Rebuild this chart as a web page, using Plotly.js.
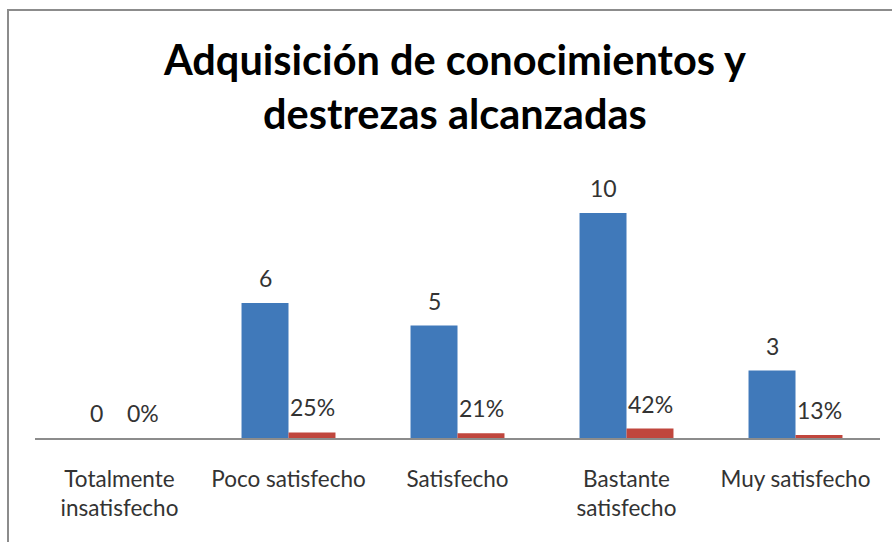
<!DOCTYPE html>
<html>
<head>
<meta charset="utf-8">
<script src="https://cdn.plot.ly/plotly-3.0.1.min.js"></script>
<style>
  html, body { margin: 0; padding: 0; background: #fff; overflow: hidden; }
  #chart { position: absolute; left: 0; top: 0; width: 892px; height: 542px; }
  #frame { position: absolute; left: 7px; top: 9px; width: 920px; height: 580px;
           border: 2px solid #8c8c8c; pointer-events: none; box-sizing: border-box; }
</style>
</head>
<body>
<div id="chart"></div>
<div id="frame"></div>
<script>
const categories = ["Totalmente<br>insatisfecho", "Poco satisfecho", "Satisfecho", "Bastante<br>satisfecho", "Muy satisfecho"];
const counts = [0, 6, 5, 10, 3];
const shares = [0, 0.25, 0.21, 0.42, 0.13];
const countLabels = ["0", "6", "5", "10", "3"];
const shareLabels = ["0%", "25%", "21%", "42%", "13%"];

const FONT = "Lato, 'Open Sans', sans-serif";
const TXT = "#333333";

const traces = [
  { type: "bar", x: categories, y: counts, name: "Frecuencia",
    marker: { color: "#4079BA" }, hoverinfo: "y" },
  { type: "bar", x: categories, y: shares, name: "Porcentaje",
    marker: { color: "#C0463D" }, hoverinfo: "y" }
];

const annotations = [];
categories.forEach((c, i) => {
  annotations.push({ x: c, y: counts[i], xref: "x", yref: "y", text: countLabels[i],
    showarrow: false, xshift: -23.5, yshift: 25, yanchor: "middle",
    font: { family: FONT, size: 23, color: TXT } });
  annotations.push({ x: c, y: shares[i], xref: "x", yref: "y", text: shareLabels[i],
    showarrow: false, xshift: 23.5, yshift: 25, yanchor: "middle",
    font: { family: FONT, size: 23, color: TXT } });
});

const layout = {
  width: 892, height: 542,
  paper_bgcolor: "#ffffff", plot_bgcolor: "#ffffff",
  margin: { l: 35, r: 12, t: 168, b: 104 },
  title: { text: "Adquisición de conocimientos y<br>destrezas alcanzadas",
    x: 0.51, xanchor: "center", y: 0.861, yref: "container", yanchor: "middle",
    font: { family: FONT, size: 41.5, color: "#000000", weight: "bold" } },
  showlegend: false,
  barmode: "group", bargap: 0.444, bargroupgap: 0,
  xaxis: { type: "category", showline: true, linecolor: "#8c8c8c", linewidth: 1.5,
    ticks: "", showgrid: false, zeroline: false, fixedrange: true,
    tickfont: { family: FONT, size: 22.5, color: TXT }, ticklabelstandoff: 20 },
  yaxis: { range: [0, 12], visible: false, showgrid: false, zeroline: false, fixedrange: true },
  annotations: annotations
};

Plotly.newPlot("chart", traces, layout, { displayModeBar: false, staticPlot: true });
</script>
</body>
</html>
